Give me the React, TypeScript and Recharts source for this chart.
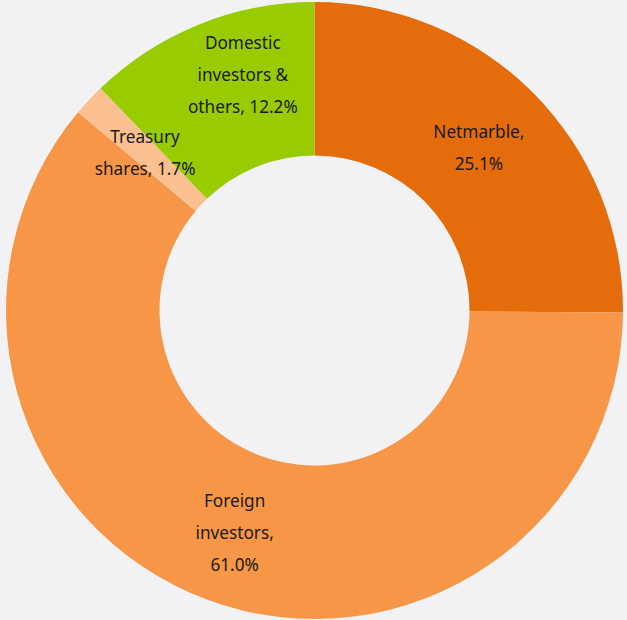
import { PieChart, Pie, Cell } from 'recharts'

// shareholder split
const NAMES = ['Netmarble', 'Foreign investors', 'Treasury shares', 'Domestic investors & others']
const SHARES = [25.1, 61.0, 1.7, 12.2]
const LABEL_LINES = [
  ['Netmarble,', '25.1%'],
  ['Foreign', 'investors,', '61.0%'],
  ['Treasury', 'shares, 1.7%'],
  ['Domestic', 'investors &', 'others, 12.2%'],
]

const COLORS = ['#E46C0A', '#F79646', '#FAC090', '#99CC00']
const BG = '#F2F2F4'

const RAD = Math.PI / 180
const LINE_H = 32
// the domestic label sits a bit off its slice centre in the original
const NUDGE: Record<number, [number, number]> = { 1: [0, 4], 3: [15, -22] }

export default function App() {
  const chartData = NAMES.map((name, i) => ({ name, value: SHARES[i] }))

  const renderLabel = (props: any) => {
    const { cx, cy, midAngle, innerRadius, outerRadius, index } = props
    const r = (innerRadius + outerRadius) / 2
    const [dx, dy] = NUDGE[index] ?? [0, 0]
    const x = cx + r * Math.cos(-midAngle * RAD) + dx
    const y = cy + r * Math.sin(-midAngle * RAD) + dy
    const lines = LABEL_LINES[index]
    const top = y - ((lines.length - 1) * LINE_H) / 2
    return (
      <text
        x={x}
        y={top}
        textAnchor="middle"
        dominantBaseline="central"
        fill="#1a1a1a"
        fontSize={17.2}
        fontFamily="'Noto Sans', sans-serif"
      >
        {lines.map((l, i) => (
          <tspan key={i} x={x} y={top + i * LINE_H}>
            {l}
          </tspan>
        ))}
      </text>
    )
  }

  return (
    <div style={{ position: 'fixed', left: 0, top: 0, width: 627, height: 620, background: BG }}>
      <PieChart width={627} height={620} margin={{ top: 0, right: 0, bottom: 0, left: 0 }}>
        <Pie
          data={chartData}
          dataKey="value"
          nameKey="name"
          cx={314.5}
          cy={310.5}
          innerRadius={155}
          outerRadius={308.5}
          startAngle={90}
          endAngle={-270}
          stroke="none"
          label={renderLabel}
          labelLine={false}
          isAnimationActive={false}
        >
          {chartData.map((_, i) => (
            <Cell key={`cell-${i}`} fill={COLORS[i]} />
          ))}
        </Pie>
      </PieChart>
    </div>
  )
}
